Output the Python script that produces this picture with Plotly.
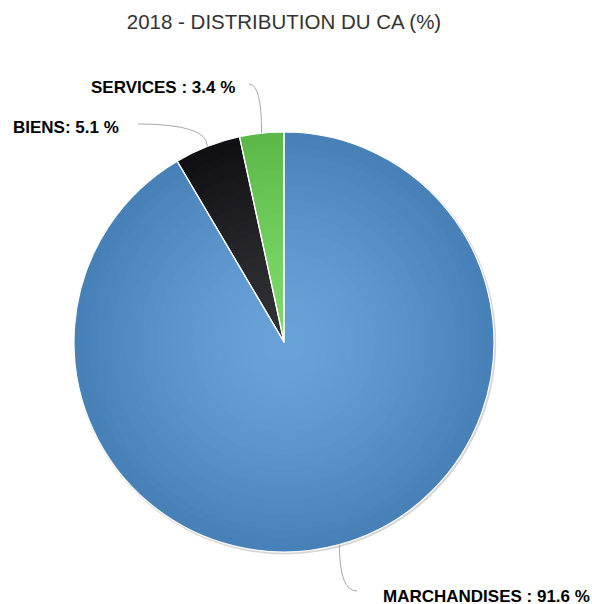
import numpy as np
import plotly.graph_objects as go

# ---- data ----
categories = ["MARCHANDISES", "BIENS", "SERVICES"]
values = [91.6, 5.1, 3.4]
label_seps = [" : ", ": ", " : "]
base_colors = ["#7cb5ec", "#434348", "#90ed7d"]
title_text = "2018 - DISTRIBUTION DU CA (%)"

# ---- layout constants (pixels) ----
W, H = 592, 604
CX, CY, R = 284, 342, 210
N_RINGS = 28

# label anchors: (x, y, xanchor) and connector label-end points
label_pos = [(381, 596, "left"), (121, 128, "right"), (237, 88, "right")]
conn_end = [(357, 591), (138, 124), (249, 84)]


def hex_rgb(h):
    h = h.lstrip("#")
    return np.array([int(h[i:i + 2], 16) for i in (0, 2, 4)], dtype=float)


def shade(h, t):
    c = np.clip(hex_rgb(h) - 76.5 * t, 0, 255)
    return "rgb(%d,%d,%d)" % tuple(np.round(c))


def dom(r, dx=0.0, dy=0.0):
    return dict(x=[(CX + dx - r) / W, (CX + dx + r) / W],
                y=[(H - CY - dy - r) / H, (H - CY - dy + r) / H])


def px(x, y):
    return x / W, 1 - y / H


common = dict(values=values, labels=categories, sort=False, direction="clockwise",
              rotation=0, textinfo="none", hoverinfo="skip", showlegend=False)

fig = go.Figure()

# soft shadow
fig.add_trace(go.Pie(domain=dom(R + 1.2, 1, 1.2),
                     marker=dict(colors=["rgba(0,0,0,0.16)"] * 3, line=dict(width=0)),
                     **common))

# radial gradient approximated by stacked discs
gc_off = 0.4 * R     # gradient centre offset upward
g_rad = 1.55 * R     # gradient radius
for k in range(N_RINGS, 0, -1):
    r = R * k / N_RINGS
    rm = R * (k - 0.5) / N_RINGS
    t = min(1.0, np.sqrt(rm ** 2 + gc_off ** 2) / g_rad)
    fig.add_trace(go.Pie(domain=dom(r),
                         marker=dict(colors=[shade(c, t) for c in base_colors],
                                     line=dict(width=0)),
                         **common))

# white slice borders
fig.add_trace(go.Pie(domain=dom(R),
                     marker=dict(colors=["rgba(0,0,0,0)"] * 3,
                                 line=dict(color="#ffffff", width=1.2)),
                     **common))

# data labels with curved connectors
vals = np.array(values, dtype=float)
frac = vals / vals.sum()
cum = np.cumsum(frac)
mid = np.deg2rad((cum - frac / 2) * 360)
shapes, annotations = [], []
for i, name in enumerate(categories):
    ex, ey = CX + R * np.sin(mid[i]), CY - R * np.cos(mid[i])
    lx, ly = conn_end[i]
    qx, qy = ex, ly
    p0, pc, p1 = px(lx, ly), px(qx, qy), px(ex, ey)
    shapes.append(dict(type="path", xref="paper", yref="paper",
                       path="M %f,%f Q %f,%f %f,%f" % (*p0, *pc, *p1),
                       line=dict(color="#a8a8a8", width=1)))
    ax, ay, anc = label_pos[i]
    axp, ayp = px(ax, ay)
    annotations.append(dict(x=axp, y=ayp, xref="paper", yref="paper",
                            xanchor=anc, yanchor="middle", showarrow=False,
                            text=f"{name}{label_seps[i]}{values[i]} %",
                            font=dict(family="Liberation Sans, Arial", size=17,
                                      color="#000000", weight="bold")))

fig.update_layout(
    width=W, height=H,
    margin=dict(l=0, r=0, t=0, b=0, pad=0),
    paper_bgcolor="#ffffff", plot_bgcolor="#ffffff",
    title=dict(text=title_text, x=284 / W, xanchor="center",
               y=1 - 22 / H, yanchor="middle", yref="container",
               font=dict(family="Liberation Sans, Arial", size=20.5, color="#333333")),
    shapes=shapes, annotations=annotations,
)

fig.write_html("out.html", config={"displayModeBar": False},
               post_script="document.body.style.margin='0';document.body.style.overflow='hidden';")
